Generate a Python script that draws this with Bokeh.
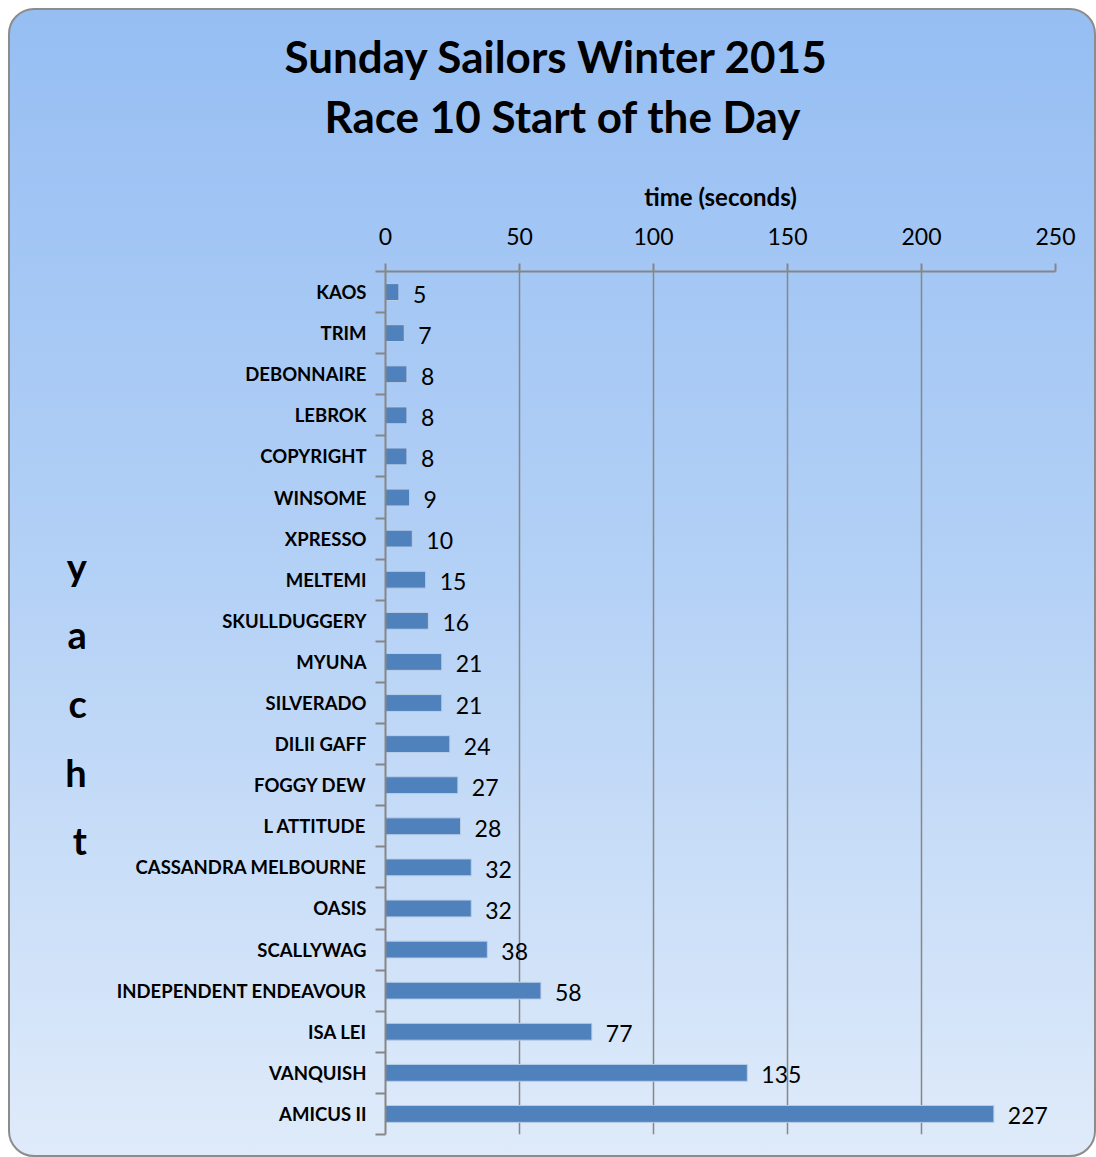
from bokeh.plotting import figure
from bokeh.models import Range1d, FixedTicker, Title, ColumnDataSource
from bokeh.core.properties import value
from bokeh.embed import file_html
from bokeh.resources import INLINE

yachts = ["KAOS", "TRIM", "DEBONNAIRE", "LEBROK", "COPYRIGHT", "WINSOME", "XPRESSO",
          "MELTEMI", "SKULLDUGGERY", "MYUNA", "SILVERADO", "DILII GAFF", "FOGGY DEW",
          "L ATTITUDE", "CASSANDRA MELBOURNE", "OASIS", "SCALLYWAG",
          "INDEPENDENT ENDEAVOUR", "ISA LEI", "VANQUISH", "AMICUS II"]
times = [5, 7, 8, 8, 8, 9, 10, 15, 16, 21, 21, 24, 27, 28, 32, 32, 38, 58, 77, 135, 227]
x_ticks = [0, 50, 100, 150, 200, 250]
title_lines = ["Sunday Sailors Winter 2015", "Race 10 Start of the Day"]
x_label = "time (seconds)"
y_label = "yacht"

FONT = "Lato"
n = len(yachts)
ypos = [i + 0.5 for i in range(n)]
src = ColumnDataSource(dict(y=ypos, v=times, lbl=[str(t) for t in times]))

p = figure(width=1088, height=1149, output_backend="svg", toolbar_location=None,
           x_range=Range1d(0, 250), y_range=Range1d(n, 0),
           x_axis_location="above", min_border_left=375, min_border_right=43,
           min_border_top=261, min_border_bottom=25)
p.margin = (8, 0, 0, 8)
p.styles = {"background": "linear-gradient(to bottom, #96bef3 0%, #b4d1f6 50%, #dfebfa 100%)",
            "border": "2px solid #8c8c8c", "border-radius": "26px", "box-sizing": "border-box"}
p.background_fill_alpha = 0
p.border_fill_alpha = 0
p.outline_line_color = None

p.hbar(y="y", right="v", left=0, height=0.41, source=src,
       fill_color="#4f81bd", line_color="#b9cde6", line_width=1)
p.text(x="v", y="y", text="lbl", source=src, x_offset=14, y_offset=2,
       text_baseline="middle", text_align="left",
       text_font=value(FONT), text_font_size="23px", text_color="#000000")

# x axis (top)
xa = p.xaxis[0]
xa.ticker = FixedTicker(ticks=x_ticks, minor_ticks=[])
xa.axis_label = x_label
xa.axis_label_text_font = FONT
xa.axis_label_text_font_style = "bold"
xa.axis_label_text_font_size = "24px"
xa.axis_label_text_color = "#000000"
xa.axis_label_standoff = 14
xa.major_label_text_font = FONT
xa.major_label_text_font_size = "23px"
xa.major_label_text_color = "#000000"
xa.major_label_standoff = 19
xa.axis_line_color = "#868686"
xa.axis_line_width = 2
xa.major_tick_line_color = "#868686"
xa.major_tick_line_width = 2
xa.major_tick_out = 8
xa.major_tick_in = 0
xa.minor_tick_line_color = None

# y axis (left)
ya = p.yaxis[0]
ya.ticker = FixedTicker(ticks=ypos, minor_ticks=list(range(n + 1)))
ya.major_label_overrides = {yp: name for yp, name in zip(ypos, yachts)}
ya.major_label_text_font = FONT
ya.major_label_text_font_style = "bold"
ya.major_label_text_font_size = "18.5px"
ya.major_label_text_color = "#000000"
ya.major_label_standoff = 9
ya.major_tick_out = 0
ya.major_tick_in = 0
ya.minor_tick_out = 10
ya.minor_tick_in = 0
ya.minor_tick_line_color = "#868686"
ya.minor_tick_line_width = 2
ya.axis_line_color = "#868686"
ya.axis_line_width = 2
ya.axis_label = "\n".join(y_label)
ya.axis_label_orientation = "horizontal"
ya.axis_label_text_font = FONT
ya.axis_label_text_font_style = "bold"
ya.axis_label_text_font_size = "38px"
ya.axis_label_text_color = "#000000"
ya.axis_label_text_line_height = 1.49
ya.axis_label_standoff = 27

p.xgrid.grid_line_color = "#878787"
p.xgrid.grid_line_width = 1.5
p.ygrid.grid_line_color = None

# spacer between the axis label and the title lines
p.add_layout(Title(text=" ", text_font_size="1px", standoff=30), "above")
title_offsets = [-101, -61]
title_standoffs = [4, 8]
for line, off, so in reversed(list(zip(title_lines, title_offsets, title_standoffs))):
    p.add_layout(Title(text=line, align="left", offset=off, text_font=FONT,
                       text_font_style="bold", text_font_size="44px",
                       text_color="#000000", standoff=so), "above")

open("out.html", "w").write(file_html(p, INLINE))
